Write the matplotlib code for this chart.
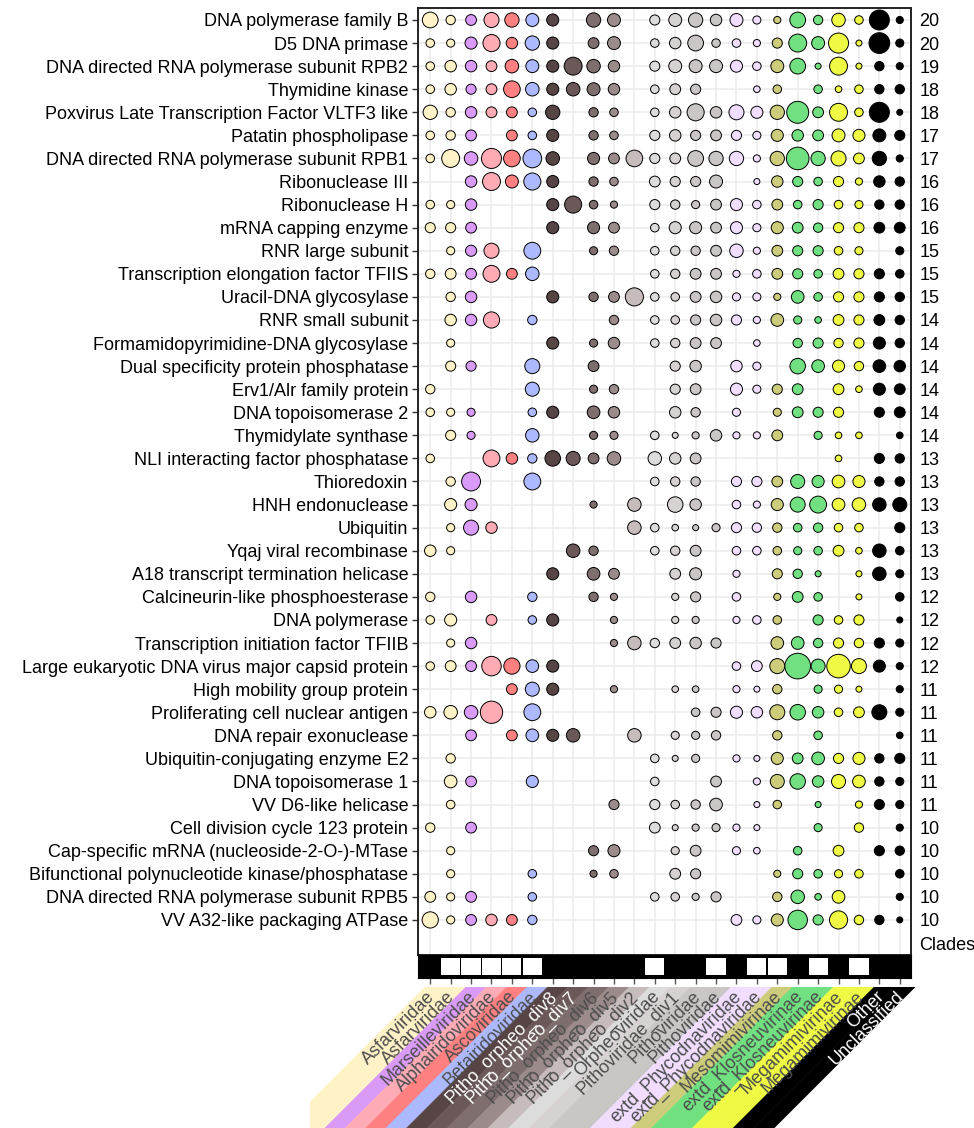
import numpy as np
import matplotlib.pyplot as plt
from matplotlib.patches import Polygon, Rectangle

plt.rcParams['font.family'] = ['Liberation Sans', 'DejaVu Sans']

# Core genes (rows, top to bottom) and the number shown on the right
genes = [
    "DNA polymerase family B", "D5 DNA primase",
    "DNA directed RNA polymerase subunit RPB2", "Thymidine kinase",
    "Poxvirus Late Transcription Factor VLTF3 like", "Patatin phospholipase",
    "DNA directed RNA polymerase subunit RPB1", "Ribonuclease III",
    "Ribonuclease H", "mRNA capping enzyme", "RNR large subunit",
    "Transcription elongation factor TFIIS", "Uracil-DNA glycosylase",
    "RNR small subunit", "Formamidopyrimidine-DNA glycosylase",
    "Dual specificity protein phosphatase", "Erv1/Alr family protein",
    "DNA topoisomerase 2", "Thymidylate synthase",
    "NLI interacting factor phosphatase", "Thioredoxin", "HNH endonuclease",
    "Ubiquitin", "Yqaj viral recombinase",
    "A18 transcript termination helicase", "Calcineurin-like phosphoesterase",
    "DNA polymerase", "Transcription initiation factor TFIIB",
    "Large eukaryotic DNA virus major capsid protein",
    "High mobility group protein", "Proliferating cell nuclear antigen",
    "DNA repair exonuclease", "Ubiquitin-conjugating enzyme E2",
    "DNA topoisomerase 1", "VV D6-like helicase",
    "Cell division cycle 123 protein",
    "Cap-specific mRNA (nucleoside-2-O-)-MTase",
    "Bifunctional polynucleotide kinase/phosphatase",
    "DNA directed RNA polymerase subunit RPB5", "VV A32-like packaging ATPase",
]
gene_counts = [20, 20, 19, 18, 18, 17, 17, 16, 16, 16, 15, 15, 15, 14, 14, 14, 14,
               14, 14, 13, 13, 13, 13, 13, 13, 12, 12, 12, 12, 11, 11, 11, 11, 11,
               11, 10, 10, 10, 10, 10]

# Clades (columns)
clades = ["Asfarviridae", "Asfarviridae", "Marseilleviridae", "Alphairidoviridae",
          "Ascoviridae", "Betairidoviridae", "Pitho_orpheo_div8", "Pitho_orpheo_div7",
          "Pitho_orpheo_div6", "Pitho_orpheo_div5", "Pitho_orpheo_div2",
          "Orpheoviridae", "Pithoviridae_div1", "Pithoviridae", "Pithoviridae",
          "extd_Phycodnaviridae", "extd_Phycodnaviridae", "Mesomimivirinae",
          "extd_Klosneuvirinae", "extd_Klosneuvirinae", "Megamimivirinae",
          "Megamimivirinae", "Other", "Unclassified"]
clade_colors = ["#FFF2C6", "#FFF2C6", "#DA9AF8", "#FFABB5", "#FF8080", "#ADB9FF",
                "#574444", "#6B5858", "#7F6E6E", "#9C8B8B", "#C6BCBC", "#DCDCDC",
                "#D6D2D2", "#CAC6C6", "#CAC6C6", "#F0DDFF", "#F0DDFF", "#CCCC7A",
                "#70E080", "#70E080", "#EEFA44", "#EEFA44", "#000000", "#000000"]
label_colors = ["#4D4D4D"] * 6 + ["white", "white"] + ["#4D4D4D"] * 14 + ["white", "white"]
# 1 = white cell in the clade bar under the panel
clade_flag = [0, 1, 1, 1, 1, 1, 0, 0, 0, 0, 0, 1, 0, 0, 1, 0, 1, 1, 0, 1, 0, 1, 0, 0]

# Percent of genomes in each clade carrying the gene (read from circle areas)
prevalence = [
    [34, 12, 16, 31, 28, 23, 20, 0, 28, 23, 0, 14, 23, 28, 18, 23, 9, 7, 34, 12, 25, 10, 55, 7],
    [10, 9, 20, 40, 18, 28, 20, 0, 16, 23, 0, 10, 18, 34, 10, 10, 7, 14, 44, 23, 55, 5, 59, 9],
    [10, 18, 18, 16, 25, 23, 20, 44, 25, 18, 0, 14, 23, 23, 23, 20, 10, 23, 34, 5, 44, 5, 12, 7],
    [10, 18, 14, 16, 38, 25, 20, 25, 23, 18, 0, 10, 16, 14, 0, 0, 6, 10, 0, 10, 6, 10, 12, 12],
    [28, 12, 18, 16, 16, 10, 28, 0, 12, 10, 0, 10, 18, 40, 18, 31, 20, 28, 66, 16, 44, 10, 55, 5],
    [10, 12, 16, 0, 16, 10, 20, 0, 12, 10, 0, 14, 18, 14, 16, 14, 9, 20, 18, 16, 23, 20, 23, 14],
    [10, 44, 25, 55, 38, 48, 25, 0, 20, 16, 38, 14, 16, 34, 28, 28, 7, 28, 70, 28, 31, 16, 28, 7],
    [0, 0, 18, 44, 23, 40, 20, 0, 12, 10, 0, 16, 14, 14, 23, 0, 5, 18, 14, 10, 14, 7, 18, 12],
    [10, 9, 18, 0, 0, 0, 20, 40, 10, 7, 0, 14, 12, 9, 16, 20, 10, 16, 10, 14, 10, 9, 12, 12],
    [14, 14, 16, 0, 0, 0, 20, 0, 20, 16, 0, 10, 20, 20, 16, 20, 9, 20, 16, 12, 14, 14, 16, 16],
    [0, 9, 17, 31, 0, 39, 0, 0, 9, 12, 0, 10, 12, 12, 16, 25, 7, 16, 14, 14, 10, 9, 0, 9],
    [12, 16, 16, 39, 16, 25, 0, 0, 0, 0, 0, 10, 12, 16, 16, 7, 10, 16, 14, 10, 16, 14, 14, 10],
    [0, 12, 18, 0, 0, 0, 20, 0, 12, 16, 45, 10, 10, 16, 18, 9, 9, 7, 22, 10, 14, 14, 14, 12],
    [0, 18, 18, 36, 0, 12, 0, 0, 0, 12, 0, 10, 10, 14, 18, 14, 7, 22, 9, 6, 16, 14, 16, 12],
    [0, 9, 0, 0, 0, 0, 20, 0, 9, 18, 0, 10, 12, 16, 16, 0, 6, 0, 12, 14, 12, 14, 20, 12],
    [0, 14, 14, 0, 0, 31, 0, 0, 16, 0, 0, 0, 14, 18, 0, 18, 9, 0, 33, 22, 20, 12, 22, 18],
    [12, 0, 0, 0, 0, 27, 0, 0, 9, 12, 0, 0, 14, 16, 0, 20, 9, 14, 16, 0, 16, 6, 20, 16],
    [10, 9, 9, 0, 0, 10, 20, 0, 22, 18, 0, 0, 18, 12, 0, 9, 0, 9, 16, 14, 14, 0, 14, 16],
    [0, 14, 9, 0, 0, 25, 0, 0, 9, 9, 0, 10, 5, 7, 18, 7, 7, 16, 0, 9, 6, 6, 0, 6],
    [10, 0, 0, 39, 18, 12, 33, 27, 16, 25, 0, 25, 18, 16, 0, 0, 0, 0, 0, 0, 6, 0, 14, 12],
    [0, 12, 49, 0, 0, 39, 0, 0, 0, 0, 0, 10, 12, 12, 0, 14, 14, 16, 27, 20, 22, 20, 12, 12],
    [0, 20, 20, 0, 0, 0, 0, 0, 7, 0, 25, 0, 33, 18, 0, 10, 7, 20, 31, 39, 22, 25, 25, 27],
    [0, 9, 31, 18, 0, 0, 0, 0, 0, 0, 25, 10, 6, 5, 9, 14, 12, 12, 10, 12, 10, 10, 0, 14],
    [18, 9, 0, 0, 0, 0, 0, 25, 12, 0, 0, 10, 12, 16, 0, 10, 10, 10, 9, 10, 16, 6, 25, 10],
    [0, 0, 0, 0, 0, 0, 20, 0, 22, 16, 0, 0, 16, 20, 0, 7, 0, 14, 12, 5, 0, 5, 25, 9],
    [12, 0, 18, 0, 0, 12, 0, 0, 12, 7, 0, 0, 7, 14, 0, 10, 0, 7, 16, 10, 0, 5, 0, 10],
    [10, 20, 0, 16, 0, 10, 20, 0, 0, 7, 0, 0, 7, 7, 0, 7, 10, 10, 0, 14, 10, 14, 0, 5],
    [0, 9, 18, 0, 0, 0, 0, 0, 0, 7, 25, 12, 16, 18, 14, 0, 0, 22, 22, 12, 14, 12, 14, 9],
    [10, 16, 16, 52, 36, 22, 20, 0, 0, 0, 0, 0, 0, 0, 0, 10, 16, 31, 90, 27, 76, 31, 20, 7],
    [0, 0, 0, 0, 16, 27, 20, 0, 0, 7, 0, 0, 6, 6, 0, 7, 5, 12, 0, 9, 9, 5, 0, 7],
    [18, 25, 25, 68, 0, 39, 0, 0, 0, 0, 0, 0, 0, 10, 14, 20, 18, 31, 33, 18, 10, 16, 31, 9],
    [0, 0, 16, 0, 16, 22, 20, 25, 0, 0, 25, 0, 9, 9, 12, 0, 0, 12, 0, 10, 0, 0, 0, 6],
    [0, 12, 0, 0, 0, 0, 0, 0, 0, 0, 0, 10, 5, 9, 0, 7, 5, 20, 16, 22, 14, 20, 12, 14],
    [0, 22, 16, 0, 0, 20, 0, 0, 0, 0, 0, 10, 0, 0, 16, 0, 7, 27, 33, 18, 27, 22, 12, 9],
    [0, 10, 0, 0, 0, 0, 0, 0, 0, 14, 0, 14, 10, 12, 22, 0, 5, 10, 0, 5, 0, 7, 14, 9],
    [12, 0, 16, 0, 0, 0, 0, 0, 0, 0, 0, 16, 5, 7, 9, 7, 5, 0, 0, 9, 0, 12, 0, 7],
    [0, 9, 0, 0, 0, 0, 0, 0, 14, 20, 0, 0, 9, 16, 0, 9, 6, 0, 10, 0, 16, 0, 14, 12],
    [0, 9, 0, 0, 0, 10, 0, 0, 7, 10, 0, 0, 16, 14, 0, 0, 0, 7, 14, 10, 9, 10, 0, 10],
    [16, 9, 16, 0, 0, 10, 0, 0, 0, 0, 0, 10, 10, 7, 14, 0, 0, 12, 25, 6, 22, 0, 0, 7],
    [36, 9, 16, 18, 16, 12, 0, 0, 0, 0, 0, 0, 0, 0, 0, 16, 9, 20, 52, 14, 45, 12, 12, 5],
]

W, H = 974, 1128
fig = plt.figure(figsize=(W / 100, H / 100), dpi=100)


def box(left, top, right, bottom):
    """Pixel box (from the top-left corner) to figure fraction"""
    return [left / W, 1 - bottom / H, (right - left) / W, (bottom - top) / H]


n_col = len(clades)
n_row = len(genes)
x_lo, x_hi = -0.6, n_col - 0.45
px_unit = (911 - 418) / (x_hi - x_lo)

# Main bubble panel
ax = fig.add_axes(box(418, 8, 911, 955))
vals = np.array(prevalence, dtype=float)
rows, cols = np.nonzero(vals)
ax.scatter(cols, rows, s=vals[rows, cols] * 3.78,
           c=[clade_colors[j] for j in cols],
           edgecolors="black", linewidths=0.7, zorder=3)
ax.set_xlim(x_lo, x_hi)
ax.set_ylim(n_row + 0.52, -0.52)
ax.set_xticks(range(n_col))
ax.set_xticklabels([])
ax.tick_params(axis="x", length=0)
ax.set_yticks(range(n_row))
ax.set_yticklabels(genes, fontsize=13)
ax.tick_params(axis="y", length=4, width=1, color="#333333", pad=3)
ax.grid(True, color="#EBEBEB", lw=1.1)
ax.set_axisbelow(True)
for sp in ax.spines.values():
    sp.set_color("#222222")
    sp.set_linewidth(1.4)

# Counts on the right side
ax2 = ax.twinx()
ax2.set_ylim(ax.get_ylim())
ax2.set_yticks(list(range(n_row)) + [n_row])
ax2.set_yticklabels([str(c) for c in gene_counts] + ["Clades"], fontsize=13)
ax2.tick_params(axis="y", length=0, pad=6)
for sp in ax2.spines.values():
    sp.set_visible(False)

# Clade bar (black / white cells)
bar = fig.add_axes(box(418, 955, 911, 978))
bar.set_facecolor("black")
for j, flag in enumerate(clade_flag):
    if flag:
        bar.add_patch(Rectangle((j - 0.47, 0.13), 0.94, 0.73, facecolor="white",
                                edgecolor="none"))
bar.set_xlim(x_lo, x_hi)
bar.set_ylim(0, 1)
bar.set_xticks(range(n_col))
bar.set_xticklabels([])
bar.set_yticks([])
bar.tick_params(axis="x", length=4, width=1, color="#555555")
for sp in bar.spines.values():
    sp.set_color("black")

# Slanted clade labels with coloured bands
lab = fig.add_axes(box(310, 987, 974, 1128))
lab.set_xlim(x_lo - (418 - 310) / px_unit, x_lo + (974 - 418) / px_unit)
lab.set_ylim(-(1128 - 987) / px_unit, 0)
lab.axis("off")
h = 9
for j in range(n_col):
    band = Polygon([(j - 0.25, 0), (j + 0.75, 0), (j + 0.75 - h, -h), (j - 0.25 - h, -h)],
                   closed=True, facecolor=clade_colors[j], edgecolor=clade_colors[j], lw=0.4)
    lab.add_patch(band)
    lab.text(j + 0.1, -0.35, clades[j], rotation=45, ha="right", va="center",
             rotation_mode="anchor", color=label_colors[j], fontsize=13)

fig.savefig("out.png", dpi=100)
